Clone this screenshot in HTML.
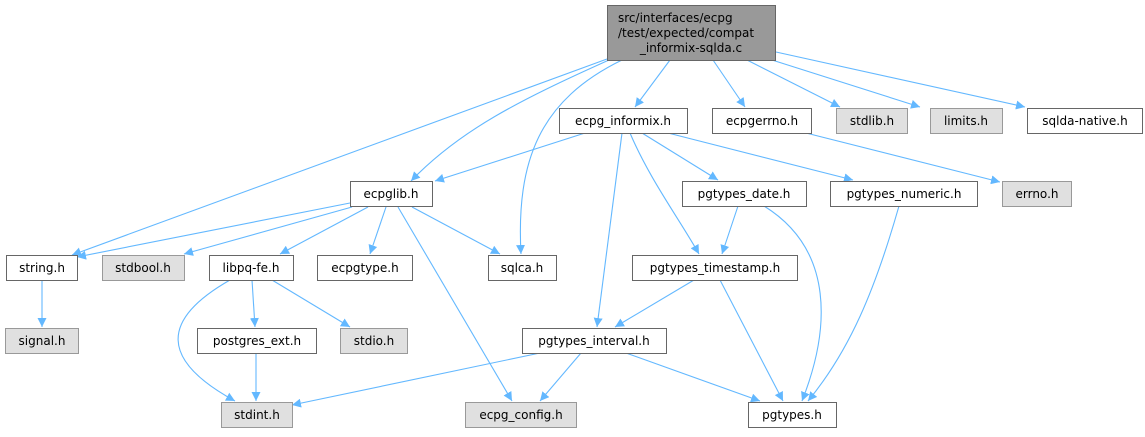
<!DOCTYPE html>
<html><head><meta charset="utf-8"><style>
html,body{margin:0;padding:0;background:#fff;}
svg text{font-family:"DejaVu Sans","Liberation Sans",sans-serif;font-size:12px;fill:#000;}
</style></head><body>
<svg width="1145" height="432" viewBox="0 0 1145 432" xmlns="http://www.w3.org/2000/svg">
<defs><marker id="a" viewBox="0 0 10 10" refX="10" refY="5" markerWidth="9" markerHeight="9" orient="auto" markerUnits="userSpaceOnUse"><path d="M0,0 L10,5 L0,10 z" fill="#63b8ff"/></marker></defs>
<g fill="none" stroke="#63b8ff" stroke-width="1.1" marker-end="url(#a)">
<path d="M607,59 L72,255"/>
<path d="M609,60 C520,100 460,130 411,181"/>
<path d="M622,60 C540,100 516,160 521,254"/>
<path d="M670,60 L635,107"/>
<path d="M713,60 L745,107"/>
<path d="M747,60 L840,107"/>
<path d="M772,60 L920,107"/>
<path d="M776,52 L1025,107"/>
<path d="M585,133 L435,181"/>
<path d="M642,133 L718,180"/>
<path d="M668,133 L853,180"/>
<path d="M630,133 C650,180 680,220 699,254"/>
<path d="M622,133 L597,327"/>
<path d="M806,133 L1000,182"/>
<path d="M350,203 L77,257"/>
<path d="M352,207 L184,254"/>
<path d="M368,207 L280,254"/>
<path d="M386,207 L370,254"/>
<path d="M412,207 L500,254"/>
<path d="M398,207 L512,401"/>
<path d="M42,280 L42,327"/>
<path d="M230,280 C160,320 160,360 235,401"/>
<path d="M252,280 L255,327"/>
<path d="M272,280 L350,327"/>
<path d="M256,353 L256,401"/>
<path d="M540,353 L292,405"/>
<path d="M581,353 L540,401"/>
<path d="M626,353 L760,401"/>
<path d="M738,206 L722,254"/>
<path d="M764,206 C835,250 830,330 802,401"/>
<path d="M899,206 C875,290 850,350 808,401"/>
<path d="M720,280 L783,401"/>
<path d="M694,280 L615,327"/>
</g>
<g stroke-width="1">
<rect x="607.5" y="5.5" width="168" height="55" fill="#999" stroke="#666"/>
<rect x="559.5" y="108.5" width="128" height="25" fill="#fff" stroke="#666"/>
<rect x="712.5" y="108.5" width="99" height="25" fill="#fff" stroke="#666"/>
<rect x="836.5" y="108.5" width="71" height="25" fill="#e0e0e0" stroke="#999"/>
<rect x="930.5" y="108.5" width="72" height="25" fill="#e0e0e0" stroke="#999"/>
<rect x="1027.5" y="108.5" width="115" height="25" fill="#fff" stroke="#666"/>
<rect x="350.5" y="181.5" width="82" height="25" fill="#fff" stroke="#666"/>
<rect x="682.5" y="181.5" width="124" height="25" fill="#fff" stroke="#666"/>
<rect x="830.5" y="181.5" width="147" height="25" fill="#fff" stroke="#666"/>
<rect x="1002.5" y="181.5" width="69" height="25" fill="#e0e0e0" stroke="#999"/>
<rect x="6.5" y="255.5" width="71" height="25" fill="#fff" stroke="#666"/>
<rect x="102.5" y="255.5" width="82" height="25" fill="#e0e0e0" stroke="#999"/>
<rect x="209.5" y="255.5" width="84" height="25" fill="#fff" stroke="#666"/>
<rect x="317.5" y="255.5" width="95" height="25" fill="#fff" stroke="#666"/>
<rect x="488.5" y="255.5" width="68" height="25" fill="#fff" stroke="#666"/>
<rect x="632.5" y="255.5" width="165" height="25" fill="#fff" stroke="#666"/>
<rect x="5.5" y="328.5" width="73" height="25" fill="#e0e0e0" stroke="#999"/>
<rect x="197.5" y="328.5" width="119" height="25" fill="#fff" stroke="#666"/>
<rect x="340.5" y="328.5" width="67" height="25" fill="#e0e0e0" stroke="#999"/>
<rect x="522.5" y="328.5" width="144" height="25" fill="#fff" stroke="#666"/>
<rect x="221.5" y="402.5" width="71" height="25" fill="#e0e0e0" stroke="#999"/>
<rect x="465.5" y="402.5" width="111" height="25" fill="#e0e0e0" stroke="#999"/>
<rect x="748.5" y="402.5" width="88" height="25" fill="#fff" stroke="#666"/>
</g>
<text x="618" y="22">src/interfaces/ecpg</text>
<text x="618" y="37">/test/expected/compat</text>
<g text-anchor="middle">
<text x="691" y="52">_informix-sqlda.c</text>
<text x="623" y="125">ecpg_informix.h</text>
<text x="762" y="125">ecpgerrno.h</text>
<text x="872" y="125">stdlib.h</text>
<text x="966" y="125">limits.h</text>
<text x="1085" y="125">sqlda-native.h</text>
<text x="391" y="198">ecpglib.h</text>
<text x="744" y="198">pgtypes_date.h</text>
<text x="904" y="198">pgtypes_numeric.h</text>
<text x="1037" y="198">errno.h</text>
<text x="42" y="272">string.h</text>
<text x="143" y="272">stdbool.h</text>
<text x="251" y="272">libpq-fe.h</text>
<text x="365" y="272">ecpgtype.h</text>
<text x="522" y="272">sqlca.h</text>
<text x="715" y="272">pgtypes_timestamp.h</text>
<text x="42" y="345">signal.h</text>
<text x="257" y="345">postgres_ext.h</text>
<text x="374" y="345">stdio.h</text>
<text x="594" y="345">pgtypes_interval.h</text>
<text x="257" y="419">stdint.h</text>
<text x="521" y="419">ecpg_config.h</text>
<text x="792" y="419">pgtypes.h</text>
</g>
</svg>
</body></html>
